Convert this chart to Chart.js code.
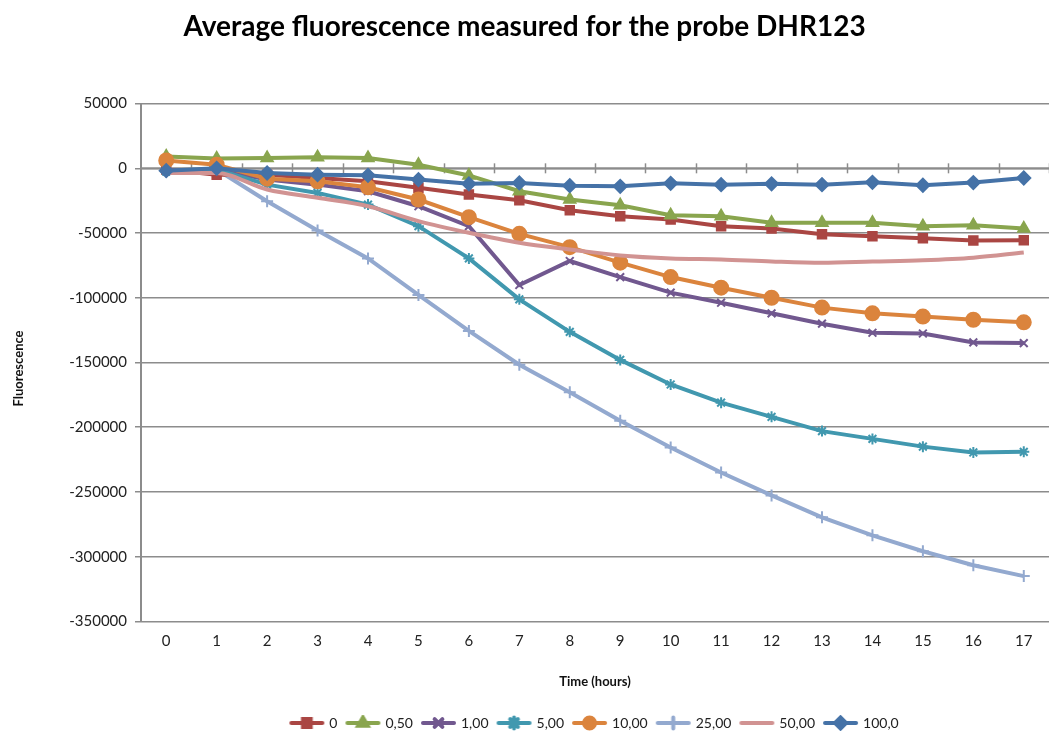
<!DOCTYPE html>
<html>
<head>
<meta charset="utf-8">
<script src="https://cdn.jsdelivr.net/npm/chart.js@4.4.1/dist/chart.umd.min.js"></script>
<style>
html,body{margin:0;padding:0;background:#fff;}
#wrap{width:1049px;height:733px;position:relative;}
</style>
</head>
<body>
<div id="wrap"><canvas id="c" width="1049" height="733"></canvas></div>
<script>
const hours = ['0','1','2','3','4','5','6','7','8','9','10','11','12','13','14','15','16','17'];
const seriesNames = ['0','0,50','1,00','5,00','10,00','25,00','50,00','100,0'];
const s0    = [-1000,-4900,-4900,-7400,-10000,-15000,-20300,-24700,-32400,-37000,-39500,-44700,-46500,-51000,-52400,-54000,-55700,-55500];
const s050  = [9200,7500,8000,8500,8000,2800,-5500,-17700,-24100,-28500,-36200,-37000,-42000,-42000,-42000,-44700,-44000,-46500];
const s1    = [-1800,-1000,-8700,-12600,-17700,-29300,-44700,-90100,-71600,-84000,-96000,-103800,-112000,-120000,-127000,-127600,-134500,-135000];
const s5    = [-2500,-1000,-12600,-19000,-28000,-44700,-69600,-101200,-126300,-148000,-167000,-181000,-192000,-203000,-209000,-215000,-219500,-219000];
const s10   = [6100,2800,-8000,-10000,-14600,-24100,-37700,-50600,-60900,-72900,-84000,-92200,-100000,-107600,-112000,-114500,-117000,-119000];
const s25   = [-2500,-1000,-25400,-48000,-69600,-97800,-125600,-151700,-173000,-195000,-215700,-235000,-252700,-269600,-283500,-295800,-306600,-315000];
const s50   = [-3600,-3600,-16400,-22800,-29300,-40800,-49800,-57500,-62700,-67300,-69600,-70400,-72000,-73000,-72000,-71000,-69000,-65000];
const s100  = [-1800,0,-3600,-4900,-5400,-8700,-12000,-11300,-13400,-13900,-11600,-12600,-12000,-12600,-10800,-13100,-11000,-7500];
const yTicks = [50000,0,-50000,-100000,-150000,-200000,-250000,-300000,-350000];

const colors = ['#AA4643','#89A54E','#71588F','#4198AF','#DB843D','#93A9CF','#D19392','#4572A7'];
const markers = ['rect','triangle','crossRot','star','circle','cross',false,'rectRot'];
const radii = [6,6.5,5.5,5.5,7,6,0,6.5];
const values = [s0,s050,s1,s5,s10,s25,s50,s100];

function legendIcon(color, style, r){
  const cv = document.createElement('canvas');
  cv.width = 37; cv.height = 16;
  const g = cv.getContext('2d');
  g.strokeStyle = color; g.lineWidth = 4; g.lineCap='round';
  g.beginPath(); g.moveTo(3,8); g.lineTo(34,8); g.stroke();
  if (style) {
    g.fillStyle = color; g.strokeStyle = color;
    Chart.helpers.drawPoint(g, {pointStyle: style, radius: r, borderWidth: 2, rotation: 0}, 18.5, 8);
  }
  return cv;
}

const datasets = values.map((v,i)=>({
  label: seriesNames[i],
  data: v,
  borderColor: colors[i],
  backgroundColor: colors[i],
  borderWidth: 4,
  pointStyle: markers[i] || 'circle',
  pointRadius: markers[i] ? radii[i] : 0,
  pointHoverRadius: markers[i] ? radii[i] : 0,
  pointBorderWidth: 2,
  pointBorderColor: colors[i],
  pointBackgroundColor: colors[i],
  tension: i===6 ? 0.35 : 0,
  cubicInterpolationMode: i===6 ? 'monotone' : 'default',
  order: [6,5,4,3,2,7,1,0][i]
}));

const zeroAxis = {
  id: 'zeroAxis',
  beforeDatasetsDraw(chart){
    const {ctx, chartArea:a, scales:{x,y}} = chart;
    const y0 = y.getPixelForValue(0);
    ctx.save();
    ctx.strokeStyle = '#8c8c8c'; ctx.lineWidth = 2;
    ctx.beginPath(); ctx.moveTo(a.left, y0); ctx.lineTo(a.right, y0); ctx.stroke();
    ctx.lineWidth = 1.5;
    const step = x.getPixelForValue(1) - x.getPixelForValue(0);
    for (let i=0;i<hours.length;i++){
      const px = Math.round(x.getPixelForValue(i) + step/2) + 0.5;
      ctx.beginPath(); ctx.moveTo(px, y0-5); ctx.lineTo(px, y0+5); ctx.stroke();
    }
    ctx.restore();
  }
};

const yTitle = {
  id: 'yTitle',
  afterDraw(chart){
    const {ctx, chartArea:a} = chart;
    ctx.save();
    ctx.translate(19, (a.top+a.bottom)/2 + 6);
    ctx.rotate(-Math.PI/2);
    ctx.font = 'bold 13px Lato';
    ctx.fillStyle = '#111';
    ctx.textAlign='center'; ctx.textBaseline='middle';
    ctx.fillText('Fluorescence', 0, 0);
    ctx.restore();
  }
};

new Chart(document.getElementById('c'), {
  type: 'line',
  data: { labels: hours, datasets },
  plugins: [zeroAxis, yTitle],
  options: {
    responsive: false,
    animation: false,
    layout: { autoPadding: false, padding: { left: 0, right: 0, top: 0, bottom: -7 } },
    plugins: {
      title: {
        display: true,
        text: 'Average fluorescence measured for the probe DHR123',
        color: '#000',
        font: { family: 'Lato', size: 28, weight: 'bold' },
        padding: { top: 10, bottom: 60 }
      },
      legend: {
        position: 'bottom',
        fullSize: false,
        labels: {
          usePointStyle: true,
          pointStyleWidth: 31,
          boxHeight: 16,
          color: '#222',
          font: { family: 'Lato', size: 14 },
          padding: 10,
          generateLabels(chart){
            return chart.data.datasets.map((d,i)=>({
              text: d.label,
              pointStyle: legendIcon(colors[i], markers[i], Math.min(radii[i],5.5)),
              fillStyle: colors[i], strokeStyle: colors[i], lineWidth: 0,
              hidden: false, datasetIndex: i, fontColor: '#222'
            }));
          }
        }
      },
      tooltip: { enabled: false }
    },
    scales: {
      x: {
        type: 'category',
        offset: true,
        grid: { display: false },
        border: { display: false },
        ticks: { color: '#222', font: { family: 'Lato', size: 15 }, padding: 3, maxRotation: 0 },
        title: { display: true, text: 'Time (hours)', color: '#111', font: { family: 'Lato', size: 13, weight: 'bold' }, padding: { top: 21, bottom: 16 } }
      },
      y: {
        min: -350000, max: 50000,
        afterBuildTicks(scale){ scale.ticks = yTicks.map(v=>({value:v})); },
        afterFit(scale){ scale.width = 141; },
        grid: { color: '#8c8c8c', lineWidth: 1.5, tickLength: 6, drawTicks: true },
        border: { display: true, color: '#8c8c8c', width: 2 },
        ticks: { color: '#222', font: { family: 'Lato', size: 15 }, padding: 8, callback: (v)=>String(v) }
      }
    }
  }
});
</script>
</body>
</html>
